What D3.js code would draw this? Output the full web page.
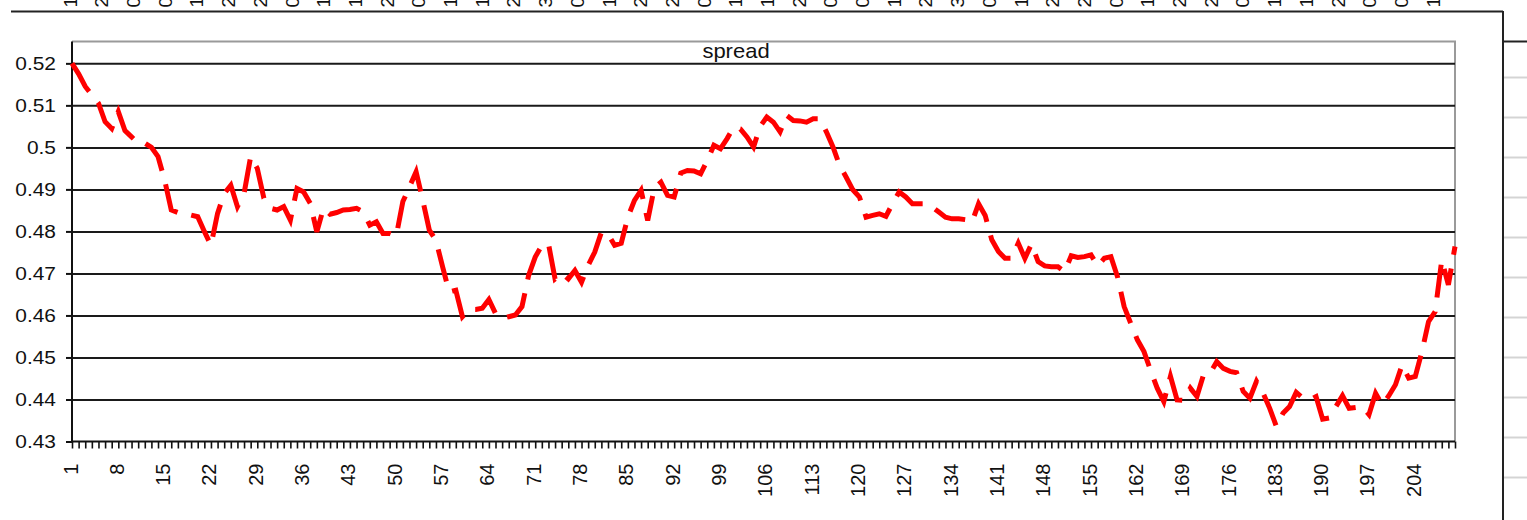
<!DOCTYPE html>
<html>
<head>
<meta charset="utf-8">
<script src="https://cdn.jsdelivr.net/npm/d3@7"></script>
<style>
  html, body { margin: 0; padding: 0; background: #ffffff; }
  svg { display: block; }
  text { font-family: "Liberation Sans", Arial, sans-serif; fill: #111; }
</style>
</head>
<body>
<svg id="chart" width="1527" height="520"></svg>
<script>
// ---- data ----
const categories = d3.range(1, 211);
const spread = [
  0.5200, 0.5175, 0.5145, 0.5125, 0.5105, 0.5061, 0.5045, 0.5085, 0.5040, 0.5025,
  0.5010, 0.5010, 0.5000, 0.4978, 0.4922, 0.4851, 0.4845, 0.4841, 0.4839, 0.4835,
  0.4800, 0.4767, 0.4843, 0.4890, 0.4910, 0.4859, 0.4890, 0.4978, 0.4950, 0.4879,
  0.4855, 0.4851, 0.4859, 0.4827, 0.4902, 0.4894, 0.4867, 0.4799, 0.4855, 0.4841,
  0.4845, 0.4851, 0.4852, 0.4855, 0.4847, 0.4815, 0.4823, 0.4795, 0.4795, 0.4789,
  0.4871, 0.4906, 0.4942, 0.4875, 0.4803, 0.4779, 0.4716, 0.4656, 0.4660, 0.4597,
  0.4614, 0.4614, 0.4617, 0.4638, 0.4605, 0.4593, 0.4597, 0.4601, 0.4621, 0.4695,
  0.4739, 0.4767, 0.4771, 0.4687, 0.4700, 0.4687, 0.4707, 0.4679, 0.4719, 0.4751,
  0.4798, 0.4794, 0.4767, 0.4772, 0.4834, 0.4874, 0.4898, 0.4826, 0.4904, 0.4917,
  0.4886, 0.4882, 0.4939, 0.4945, 0.4944, 0.4937, 0.4969, 0.5005, 0.4997, 0.5021,
  0.5048, 0.5044, 0.5025, 0.5001, 0.5050, 0.5072, 0.5060, 0.5037, 0.5076, 0.5064,
  0.5063, 0.5060, 0.5068, 0.5068, 0.5037, 0.5001, 0.4957, 0.4929, 0.4899, 0.4882,
  0.4834, 0.4838, 0.4842, 0.4836, 0.4866, 0.4894, 0.4882, 0.4866, 0.4866, 0.4866,
  0.4858, 0.4846, 0.4834, 0.4830, 0.4830, 0.4828, 0.4822, 0.4866, 0.4838, 0.4780,
  0.4752, 0.4736, 0.4736, 0.4772, 0.4736, 0.4770, 0.4728, 0.4718, 0.4716, 0.4716,
  0.4704, 0.4742, 0.4738, 0.4740, 0.4744, 0.4718, 0.4736, 0.4740, 0.4692, 0.4621,
  0.4581, 0.4542, 0.4514, 0.4469, 0.4427, 0.4395, 0.4455, 0.4399, 0.4398, 0.4427,
  0.4407, 0.4459, 0.4463, 0.4490, 0.4474, 0.4467, 0.4464, 0.4419, 0.4403, 0.4443,
  0.4415, 0.4379, 0.4336, 0.4367, 0.4383, 0.4417, 0.4403, 0.4399, 0.4407, 0.4353,
  0.4356, 0.4383, 0.4409, 0.4379, 0.4381, 0.4383, 0.4364, 0.4415, 0.4387, 0.4409,
  0.4435, 0.4482, 0.4451, 0.4455, 0.4514, 0.4585, 0.4609, 0.4732, 0.4673, 0.4764
];
const yTickValues = [0.43, 0.44, 0.45, 0.46, 0.47, 0.48, 0.49, 0.50, 0.51, 0.52];
const yTickLabels = ["0.43", "0.44", "0.45", "0.46", "0.47", "0.48", "0.49", "0.5", "0.51", "0.52"];
const xTickLabels = [1, 8, 15, 22, 29, 36, 43, 50, 57, 64, 71, 78, 85, 92, 99, 106,
  113, 120, 127, 134, 141, 148, 155, 162, 169, 176, 183, 190, 197, 204];
const chartTitle = "spread";
// clipped label fragments of the axis of the chart above
const topFragments = ["1","2","0","0","1","2","2","0","1","1","2","0","1","1","2",
  "3","0","1","2","2","0","1","1","2","0","0","1","2","3","0",
  "1","2","2","0","1","2","2","0","1","1","2","0","0","1"];

// ---- layout ----
const W = 1527, H = 520;
const plot = { left: 72, right: 1455, top: 41.5, bottom: 441.5 };

const svg = d3.select("#chart");
svg.append("rect").attr("width", W).attr("height", H).attr("fill", "#ffffff");

const x = d3.scalePoint().domain(categories).range([plot.left, plot.right]);
const y = d3.scaleLinear().domain([0.43, 0.5252]).range([plot.bottom, plot.top]);

// spreadsheet cells on the far right
const cellY = d3.scaleLinear().domain([0, 1]).range([77, 117]);
svg.append("g").selectAll("line").data(d3.range(0, 11)).join("line")
  .attr("x1", 1504).attr("x2", W)
  .attr("y1", d => Math.round(cellY(d)) + 0.5).attr("y2", d => Math.round(cellY(d)) + 0.5)
  .attr("stroke", "#d4d4d4").attr("stroke-width", 2);
svg.append("line").attr("x1", 1504).attr("x2", W).attr("y1", 41.5).attr("y2", 41.5)
  .attr("stroke", "#222").attr("stroke-width", 2);

// outer frame (top and right)
svg.append("line").attr("x1", 11).attr("x2", 1503).attr("y1", 11.5).attr("y2", 11.5)
  .attr("stroke", "#222").attr("stroke-width", 2);
svg.append("line").attr("x1", 1503).attr("x2", 1503).attr("y1", 11).attr("y2", H)
  .attr("stroke", "#222").attr("stroke-width", 2);

// top fragments (rotated labels of the chart above, clipped by the page edge)
const xf = d3.scalePoint().domain(d3.range(topFragments.length)).range([70, 1433]);
svg.append("g").selectAll("text").data(topFragments).join("text")
  .attr("transform", (d, i) => `translate(${xf(i)},7.5) rotate(-90)`)
  .attr("dy", "0.35em")
  .attr("text-anchor", "start")
  .style("font-size", "19px")
  .text(d => d);

// plot border (grey top and right)
svg.append("path")
  .attr("d", `M${plot.left},${plot.top}H${plot.right}V${plot.bottom}`)
  .attr("fill", "none").attr("stroke", "#9a9a9a").attr("stroke-width", 2);

// gridlines
const grid = svg.append("g").attr("transform", `translate(${plot.left},0)`)
  .call(d3.axisLeft(y).tickValues(yTickValues.slice(1)).tickSize(-(plot.right - plot.left)).tickFormat(""));
grid.select(".domain").remove();
grid.selectAll("line").attr("stroke", "#1a1a1a").attr("stroke-width", 2);

// y axis
const yAxis = svg.append("g").attr("transform", `translate(${plot.left},0)`)
  .call(d3.axisLeft(y).tickValues(yTickValues).tickSize(6)
    .tickFormat((d, i) => yTickLabels[i]));
yAxis.select(".domain").attr("d", `M0,${plot.top}V${plot.bottom}`)
  .attr("stroke", "#111").attr("stroke-width", 2);
yAxis.selectAll(".tick line").attr("stroke", "#111").attr("stroke-width", 2);
yAxis.selectAll(".tick text")
  .attr("x", 0).attr("dy", "0.34em")
  .attr("transform", "translate(-16,0) scale(1.1,1)")
  .attr("fill", "#111")
  .style("font-size", "19px");

// x axis
const xAxis = svg.append("g").attr("transform", `translate(0,${plot.bottom})`)
  .call(d3.axisBottom(x).tickSize(7)
    .tickFormat(d => xTickLabels.includes(d) ? String(d) : ""));
xAxis.select(".domain").attr("d", `M${plot.left},0H${plot.right}`)
  .attr("stroke", "#111").attr("stroke-width", 2);
xAxis.selectAll(".tick line").attr("stroke", "#111").attr("stroke-width", 1.6);
xAxis.selectAll(".tick text")
  .attr("x", 0).attr("y", 0).attr("dy", "0.35em")
  .attr("text-anchor", "end")
  .attr("transform", "translate(-2,22) rotate(-90)")
  .attr("fill", "#111")
  .style("font-size", "20px");

// title
svg.append("text")
  .attr("transform", "translate(736,57.5) scale(1.1,1)")
  .attr("text-anchor", "middle")
  .style("font-size", "20px")
  .text(chartTitle);

// series line
const line = d3.line().x((d, i) => x(categories[i])).y(d => y(d));
svg.append("path")
  .datum(spread)
  .attr("d", line)
  .attr("fill", "none")
  .attr("stroke", "#ff0000")
  .attr("stroke-width", 5)
  .attr("stroke-linejoin", "miter")
  .attr("stroke-dasharray", "33,14");
</script>
</body>
</html>
